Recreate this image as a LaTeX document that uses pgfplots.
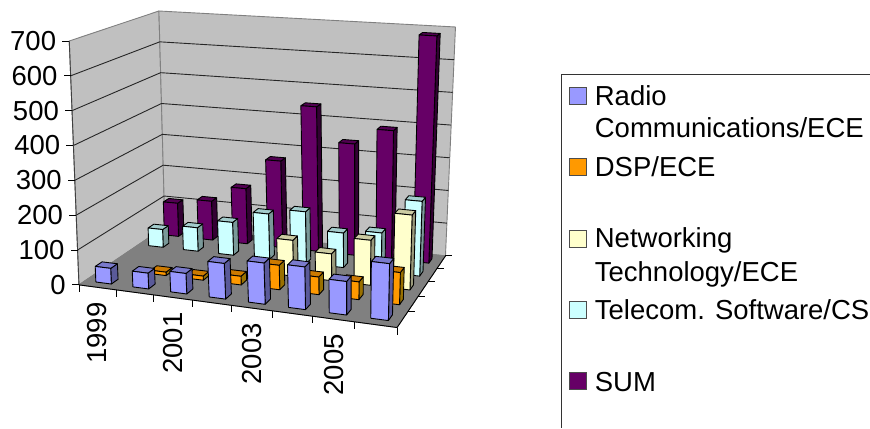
\documentclass[border=0pt]{standalone}
\usepackage{fontspec}
\setmainfont{Liberation Sans}
\usepackage{pgfplots}
\pgfplotsset{compat=1.18}
\definecolor{fr0}{HTML}{9999FF}\definecolor{si0}{HTML}{5A5A99}\definecolor{to0}{HTML}{7A7ACC}
\definecolor{fr1}{HTML}{FF9900}\definecolor{si1}{HTML}{997000}\definecolor{to1}{HTML}{CC7A00}
\definecolor{fr2}{HTML}{FFFFCC}\definecolor{si2}{HTML}{99997A}\definecolor{to2}{HTML}{CCCCA3}
\definecolor{fr3}{HTML}{CCFFFF}\definecolor{si3}{HTML}{7A9999}\definecolor{to3}{HTML}{A3CCCC}
\definecolor{fr4}{HTML}{660066}\definecolor{si4}{HTML}{330033}\definecolor{to4}{HTML}{520052}
\definecolor{wallc}{HTML}{C0C0C0}\definecolor{floorc}{HTML}{808080}
\tikzset{lg/.style={anchor=base west,inner sep=0pt,font=\fontsize{27.5}{30}\selectfont}}
% homography of the unit square on a quadrilateral (coordinates in hundreds of pixels)
\newcommand\setquad[9]{{%
  \pgfmathsetmacro\qsx{#2-#4+#6-#8}\pgfmathsetmacro\qsy{#3-#5+#7-#9}%
  \pgfmathsetmacro\qdxa{#4-#6}\pgfmathsetmacro\qdxb{#8-#6}%
  \pgfmathsetmacro\qdya{#5-#7}\pgfmathsetmacro\qdyb{#9-#7}%
  \pgfmathsetmacro\qden{\qdxa*\qdyb-\qdxb*\qdya}%
  \pgfmathsetmacro\qg{(\qsx*\qdyb-\qdxb*\qsy)/\qden}%
  \pgfmathsetmacro\qh{(\qdxa*\qsy-\qsx*\qdya)/\qden}%
  \pgfmathsetmacro\qa{#4-#2+\qg*#4}\pgfmathsetmacro\qb{#8-#2+\qh*#8}%
  \pgfmathsetmacro\qd{#5-#3+\qg*#5}\pgfmathsetmacro\qe{#9-#3+\qh*#9}%
  \expandafter\xdef\csname #1a\endcsname{\qa}\expandafter\xdef\csname #1b\endcsname{\qb}%
  \expandafter\xdef\csname #1c\endcsname{#2}\expandafter\xdef\csname #1d\endcsname{\qd}%
  \expandafter\xdef\csname #1e\endcsname{\qe}\expandafter\xdef\csname #1f\endcsname{#3}%
  \expandafter\xdef\csname #1g\endcsname{\qg}\expandafter\xdef\csname #1h\endcsname{\qh}%
}}
\setquad{F}{0.79}{2.85}{3.973}{3.277}{4.457}{2.56}{1.65}{2.27}
\setquad{T}{0.693}{0.41}{4.04}{0.68}{4.557}{0.27}{1.59}{0.11}
% #1 along the years 0..8, #2 across the series 0..5, #3 value, #4 result
\newcommand\PP[4]{%
  \pgfmathsetmacro\pu{(#1)/8}\pgfmathsetmacro\pu{\pu+0.06*\pu*(1-\pu)}%
  \pgfmathsetmacro\pv{(#2)/5}\pgfmathsetmacro\pt{(#3)/700}%
  \pgfmathsetmacro\wf{\Fg*\pu+\Fh*\pv+1}\pgfmathsetmacro\wt{\Tg*\pu+\Th*\pv+1}%
  \pgfmathsetmacro\fx{(\Fa*\pu+\Fb*\pv+\Fc)/\wf}\pgfmathsetmacro\fy{(\Fd*\pu+\Fe*\pv+\Ff)/\wf}%
  \pgfmathsetmacro\tx{(\Ta*\pu+\Tb*\pv+\Tc)/\wt}\pgfmathsetmacro\ty{(\Td*\pu+\Te*\pv+\Tf)/\wt}%
  \pgfmathsetmacro\rx{100*(\fx+\pt*(\tx-\fx))}\pgfmathsetmacro\ry{100*(\fy+\pt*(\ty-\fy))}%
  \edef#4{(\rx,\ry)}%
  \xdef\lastx{\rx}\xdef\lasty{\ry}%
}
\newcommand\poly[3]{\edef\tmp{\noexpand\addplot[#1,line join=round,line width=0.9pt] coordinates {#2};}\tmp}
\newcommand\barbox[3]{% column, series, value
  \ifdim #3pt>0pt
  \pgfmathsetmacro\xa{#1+0.29}\pgfmathsetmacro\xb{#1+0.71}%
  \pgfmathsetmacro\ya{#2+0.32}\pgfmathsetmacro\yb{#2+0.68}%
  \PP{\xa}{\ya}{0}\pa\PP{\xb}{\ya}{0}\pb\PP{\xb}{\yb}{0}\pc
  \PP{\xa}{\ya}{#3}\qa\PP{\xb}{\ya}{#3}\qb\PP{\xb}{\yb}{#3}\qc\PP{\xa}{\yb}{#3}\qd
  \poly{fill=si#2,draw=black}{\pb \pc \qc \qb \pb}{}%
  \poly{fill=to#2,draw=black}{\qa \qb \qc \qd \qa}{}%
  \poly{fill=fr#2,draw=black}{\pa \pb \qb \qa \pa}{}%
  \fi
}
\begin{document}
\begin{tikzpicture}
\begin{axis}[scale only axis,width=870pt,height=428pt,xmin=0,xmax=870,ymin=0,ymax=428,
  y dir=reverse,hide axis,clip=false]
\path[fill=white] (axis cs:0,0) rectangle (axis cs:870,428);
% walls and floor
\PP{0}{0}{0}\Aa\PP{8}{0}{0}\Ba\PP{8}{5}{0}\Ca\PP{0}{5}{0}\Da
\PP{0}{0}{700}\At\PP{8}{5}{700}\Ct\PP{0}{5}{700}\Dt
\poly{fill=wallc,draw=floorc}{\Aa \At \Dt \Da \Aa}{}
\poly{fill=wallc,draw=floorc}{\Da \Dt \Ct \Ca \Da}{}
\poly{fill=floorc,draw=floorc}{\Aa \Ba \Ca \Da \Aa}{}
% gridlines
\foreach \g in {100,200,...,600}{
  \PP{0}{0}{\g}\ga\PP{0}{5}{\g}\gb\PP{8}{5}{\g}\gc
  \poly{draw=black!85}{\ga \gb \gc}{}
}
% axis lines
\poly{draw=black!75}{\Aa \At}{}
\poly{draw=black}{\Aa \Ba \Ca}{}
% value axis
\foreach \g in {0,100,...,700}{
  \PP{0}{0}{\g}\ga
  \pgfmathsetmacro\ttx{\lastx-7}\pgfmathsetmacro\lbx{\lastx-13}
  \edef\tmp{\noexpand\addplot[draw=black,line width=0.9pt] coordinates {(\lastx,\lasty) (\ttx,\lasty)};
    \noexpand\node[anchor=east,inner sep=0pt,font=\noexpand\fontsize{27.5}{30}\noexpand\selectfont] at (axis cs:\lbx,\lasty) {\g};}
  \tmp
}
% year ticks
\foreach \k in {0,...,8}{
  \PP{\k}{0}{0}\ga
  \pgfmathsetmacro\tty{\lasty+7}
  \edef\tmp{\noexpand\addplot[draw=black,line width=0.9pt] coordinates {(\lastx,\lasty) (\lastx,\tty)};}
  \tmp
}
% series ticks
\foreach \k in {1,...,5}{
  \PP{8}{\k}{0}\ga
  \pgfmathsetmacro\ttx{\lastx+7}
  \edef\tmp{\noexpand\addplot[draw=black,line width=0.9pt] coordinates {(\lastx,\lasty) (\ttx,\lasty)};}
  \tmp
}
% year labels
\foreach \k/\lab in {0/1999,2/2001,4/2003,6/2005}{
  \pgfmathsetmacro\kk{\k+0.5}
  \PP{\kk}{0}{0}\ga
  \pgfmathsetmacro\tty{\lasty+15}
  \edef\tmp{\noexpand\node[rotate=90,anchor=east,inner sep=0pt,font=\noexpand\fontsize{27.5}{30}\noexpand\selectfont] at (axis cs:\lastx,\tty) {\lab};}
  \tmp
}
% bars, back row first
\foreach \v [count=\c from 0] in {105,122,172,268,445,340,390,685}{\barbox{\c}{4}{\v}}
\foreach \v [count=\c from 0] in {55,72,100,137,155,103,115,220}{\barbox{\c}{3}{\v}}
\foreach \v [count=\c from 0] in {0,0,0,0,105,78,130,215}{\barbox{\c}{2}{\v}}
\foreach \v [count=\c from 0] in {0,10,12,25,70,50,50,90}{\barbox{\c}{1}{\v}}
\foreach \v [count=\c from 0] in {45,45,58,100,115,118,92,155}{\barbox{\c}{0}{\v}}
% legend
\draw[black!80,line width=0.9pt] (axis cs:870,74) -- (axis cs:561.7,74) -- (axis cs:561.7,428);
\foreach \yy/\cc in {87.5/0,159/1,231/2,302/3,373/4}{
  \pgfmathsetmacro\yz{\yy+17}
  \edef\tmp{\noexpand\draw[black!70,line width=0.9pt,fill=fr\cc] (axis cs:569.5,\yy) rectangle (axis cs:586.5,\yz);}
  \tmp
}
\node[lg] at (axis cs:595,105.7) {Radio};
\node[lg] at (axis cs:595,138) {Communications/ECE};
\node[lg] at (axis cs:595,176.7) {DSP/ECE};
\node[lg] at (axis cs:595,248) {Networking};
\node[lg] at (axis cs:595,281.7) {Technology/ECE};
\node[lg] at (axis cs:595,320) {Telecom. Software/CS};
\node[lg] at (axis cs:595,392) {SUM};
\end{axis}
\end{tikzpicture}
\end{document}
